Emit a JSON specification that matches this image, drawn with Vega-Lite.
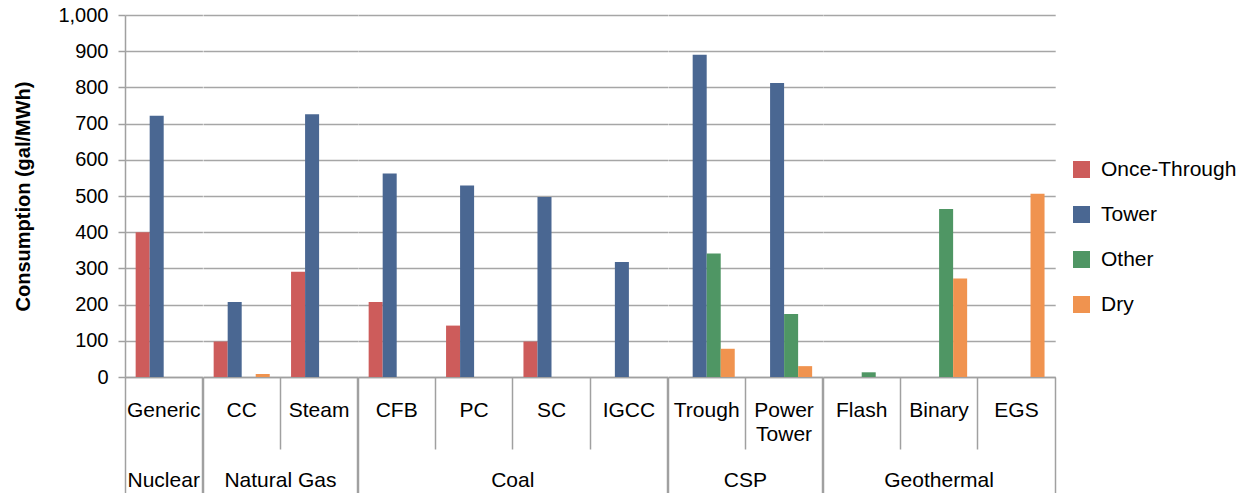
{
  "$schema": "https://vega.github.io/schema/vega-lite/v6.json",
  "padding": {"left": 13, "top": 5, "right": 0, "bottom": 0},
  "bounds": "flush",
  "data": {
    "values": [
      {"group": "Nuclear", "tech": "Generic", "series": "Once-Through", "value": 400},
      {"group": "Nuclear", "tech": "Generic", "series": "Tower", "value": 722},
      {"group": "Natural Gas", "tech": "CC", "series": "Once-Through", "value": 98},
      {"group": "Natural Gas", "tech": "CC", "series": "Tower", "value": 207},
      {"group": "Natural Gas", "tech": "CC", "series": "Dry", "value": 8},
      {"group": "Natural Gas", "tech": "Steam", "series": "Once-Through", "value": 291},
      {"group": "Natural Gas", "tech": "Steam", "series": "Tower", "value": 726},
      {"group": "Coal", "tech": "CFB", "series": "Once-Through", "value": 207},
      {"group": "Coal", "tech": "CFB", "series": "Tower", "value": 562},
      {"group": "Coal", "tech": "PC", "series": "Once-Through", "value": 142},
      {"group": "Coal", "tech": "PC", "series": "Tower", "value": 529},
      {"group": "Coal", "tech": "SC", "series": "Once-Through", "value": 98},
      {"group": "Coal", "tech": "SC", "series": "Tower", "value": 497},
      {"group": "Coal", "tech": "IGCC", "series": "Tower", "value": 318},
      {"group": "CSP", "tech": "Trough", "series": "Tower", "value": 890},
      {"group": "CSP", "tech": "Trough", "series": "Other", "value": 341},
      {"group": "CSP", "tech": "Trough", "series": "Dry", "value": 78},
      {"group": "CSP", "tech": "Power Tower", "series": "Tower", "value": 812},
      {"group": "CSP", "tech": "Power Tower", "series": "Other", "value": 174},
      {"group": "CSP", "tech": "Power Tower", "series": "Dry", "value": 30},
      {"group": "Geothermal", "tech": "Flash", "series": "Other", "value": 13},
      {"group": "Geothermal", "tech": "Binary", "series": "Other", "value": 464},
      {"group": "Geothermal", "tech": "Binary", "series": "Dry", "value": 272},
      {"group": "Geothermal", "tech": "EGS", "series": "Dry", "value": 506}
    ]
  },
  "facet": {
    "column": {
      "field": "group",
      "type": "nominal",
      "sort": ["Nuclear", "Natural Gas", "Coal", "CSP", "Geothermal"],
      "title": null,
      "header": {
        "labelOrient": "bottom",
        "labelFont": "Liberation Sans",
        "labelFontSize": 21,
        "labelColor": "#000000",
        "labelPadding": 93
      }
    }
  },
  "spacing": 0,
  "resolve": {"scale": {"x": "independent", "xOffset": "independent"}},
  "spec": {
    "width": {"step": 77.4, "for": "position"},
    "height": 362,
    "view": {"stroke": "transparent", "strokeWidth": 0},
    "mark": {"type": "bar"},
    "encoding": {
      "x": {
        "field": "tech",
        "type": "nominal",
        "sort": ["Generic", "CC", "Steam", "CFB", "PC", "SC", "IGCC", "Trough", "Power Tower", "Flash", "Binary", "EGS"],
        "title": null,
        "scale": {"paddingInner": 0, "paddingOuter": 0},
        "axis": {
          "grid": false,
          "bandPosition": 1,
          "tickExtra": true,
          "tickSize": 116,
          "tickColor": "#a0a0a0",
          "tickWidth": 1.5,
          "tickDash": {
            "condition": {"test": "datum.index === -1 || datum.index === 1 || datum.value === 'Generic'", "value": []},
            "value": [72, 100]
          },
          "domainColor": "#a0a0a0",
          "domainWidth": 1.5,
          "labelAngle": 0,
          "labelBaseline": "top",
          "labelPadding": -94,
          "labelFontSize": 21,
          "labelLineHeight": 24,
          "labelOverlap": false,
          "labelExpr": "split(datum.label, ' ')"
        }
      },
      "xOffset": {
        "field": "series",
        "type": "nominal",
        "scale": {"domain": ["Once-Through", "Tower", "Other", "Dry"], "paddingInner": 0, "paddingOuter": 0.76}
      },
      "y": {
        "field": "value",
        "type": "quantitative",
        "title": "Consumption (gal/MWh)",
        "scale": {"domain": [0, 1000]},
        "axis": {
          "values": [0, 100, 200, 300, 400, 500, 600, 700, 800, 900, 1000],
          "format": ",.0f",
          "grid": true,
          "gridColor": "#a6a6a6",
          "gridWidth": 1.5,
          "tickSize": 7,
          "tickColor": "#a0a0a0",
          "tickWidth": 1.5,
          "domainColor": "#a0a0a0",
          "domainWidth": 1.5,
          "labelFontSize": 20,
          "labelPadding": 10,
          "titleFontSize": 20,
          "titleFontWeight": "bold",
          "titlePadding": 24
        }
      },
      "color": {
        "field": "series",
        "type": "nominal",
        "scale": {
          "domain": ["Once-Through", "Tower", "Other", "Dry"],
          "range": ["#cd5c5b", "#4a6792", "#4f9664", "#f0934f"]
        },
        "legend": {
          "title": null,
          "orient": "none",
          "legendX": 946,
          "legendY": 144,
          "symbolType": "square",
          "symbolSize": 289,
          "symbolStrokeWidth": 0,
          "labelFontSize": 21,
          "labelOffset": 9,
          "rowPadding": 23
        }
      }
    }
  },
  "config": {
    "font": "Liberation Sans",
    "view": {"stroke": "transparent", "strokeWidth": 0},
    "axis": {"labelColor": "#000000", "titleColor": "#000000", "labelFont": "Liberation Sans", "titleFont": "Liberation Sans"},
    "legend": {"labelColor": "#000000", "labelFont": "Liberation Sans"}
  }
}
